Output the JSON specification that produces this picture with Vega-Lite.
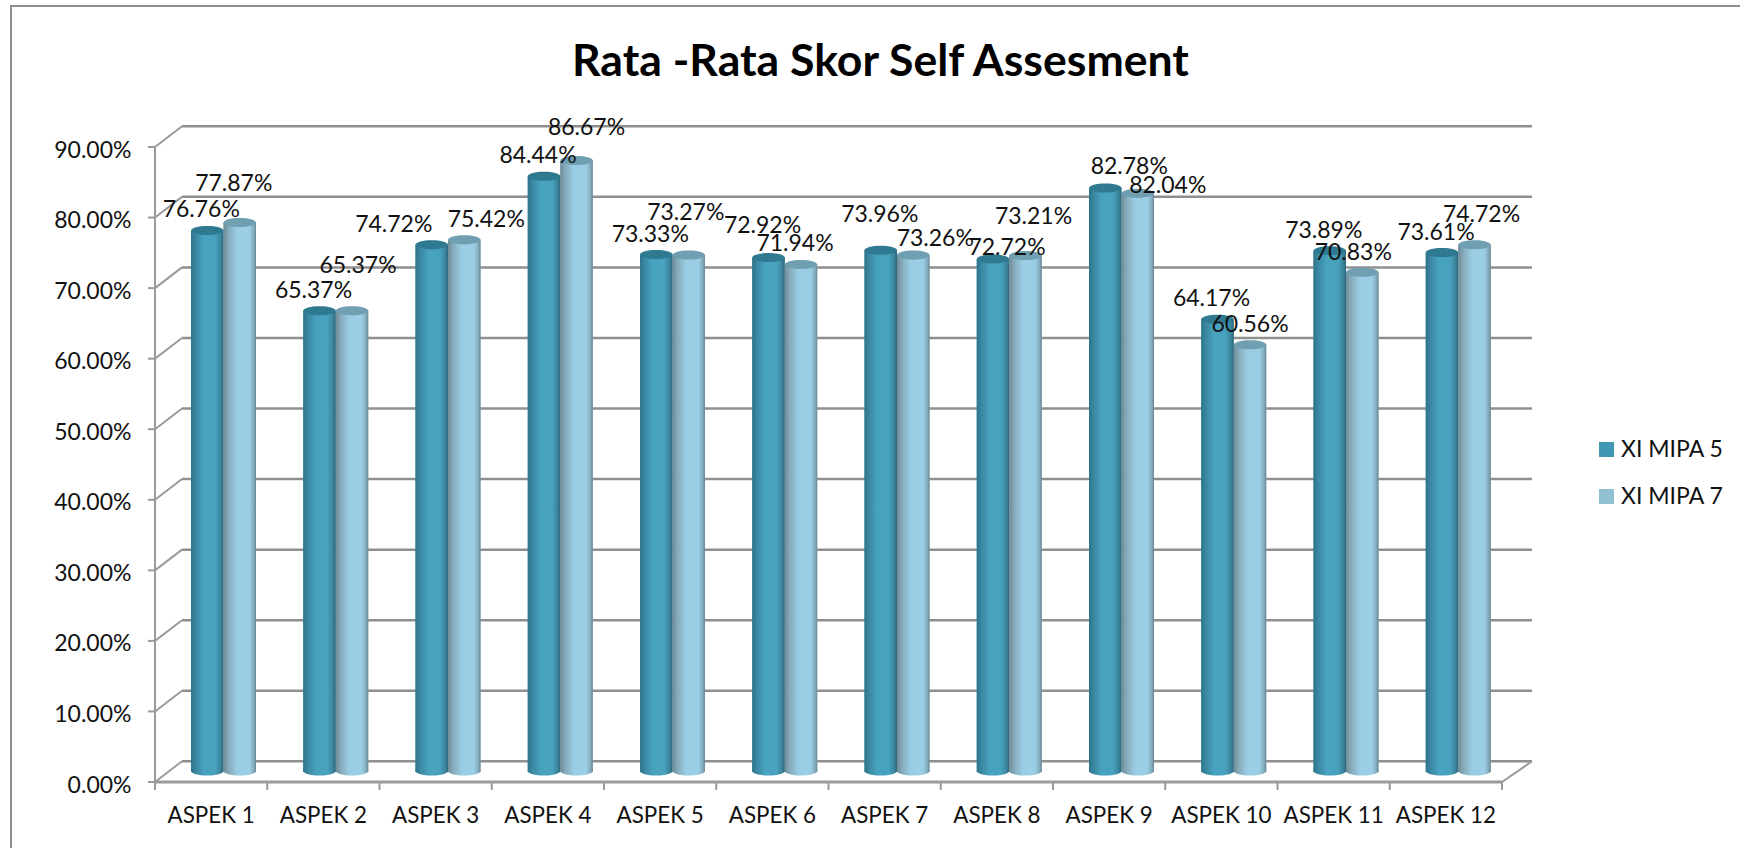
{"$schema":"https://vega.github.io/schema/vega-lite/v6.json","width":1739,"height":852,"autosize":"none","padding":{"left":11,"top":6,"right":-10,"bottom":-10},"background":"white","config":{"view":{"stroke":"#8f8f8f","strokeWidth":2},"font":"Lato"},"title":{"text":"Rata -Rata Skor Self Assesment","anchor":"middle","frame":"group","offset":-66,"dy":49,"baseline":"alphabetic","font":"Lato","fontSize":44.6,"fontWeight":"bold","color":"#000"},"datasets":{"nilai":[{"aspek":"ASPEK 1","kelas":"XI MIPA 5","nilai":0.7676},{"aspek":"ASPEK 1","kelas":"XI MIPA 7","nilai":0.7787},{"aspek":"ASPEK 2","kelas":"XI MIPA 5","nilai":0.6537},{"aspek":"ASPEK 2","kelas":"XI MIPA 7","nilai":0.6537},{"aspek":"ASPEK 3","kelas":"XI MIPA 5","nilai":0.7472},{"aspek":"ASPEK 3","kelas":"XI MIPA 7","nilai":0.7542},{"aspek":"ASPEK 4","kelas":"XI MIPA 5","nilai":0.8444},{"aspek":"ASPEK 4","kelas":"XI MIPA 7","nilai":0.8667},{"aspek":"ASPEK 5","kelas":"XI MIPA 5","nilai":0.7333},{"aspek":"ASPEK 5","kelas":"XI MIPA 7","nilai":0.7327},{"aspek":"ASPEK 6","kelas":"XI MIPA 5","nilai":0.7292},{"aspek":"ASPEK 6","kelas":"XI MIPA 7","nilai":0.7194},{"aspek":"ASPEK 7","kelas":"XI MIPA 5","nilai":0.7396},{"aspek":"ASPEK 7","kelas":"XI MIPA 7","nilai":0.7326},{"aspek":"ASPEK 8","kelas":"XI MIPA 5","nilai":0.7272},{"aspek":"ASPEK 8","kelas":"XI MIPA 7","nilai":0.7321},{"aspek":"ASPEK 9","kelas":"XI MIPA 5","nilai":0.8278},{"aspek":"ASPEK 9","kelas":"XI MIPA 7","nilai":0.8204},{"aspek":"ASPEK 10","kelas":"XI MIPA 5","nilai":0.6417},{"aspek":"ASPEK 10","kelas":"XI MIPA 7","nilai":0.6056},{"aspek":"ASPEK 11","kelas":"XI MIPA 5","nilai":0.7389},{"aspek":"ASPEK 11","kelas":"XI MIPA 7","nilai":0.7083},{"aspek":"ASPEK 12","kelas":"XI MIPA 5","nilai":0.7361},{"aspek":"ASPEK 12","kelas":"XI MIPA 7","nilai":0.7472}],"grid":[{"level":0,"from":0,"to":1},{"level":0.1,"from":0,"to":1},{"level":0.2,"from":0,"to":1},{"level":0.3,"from":0,"to":1},{"level":0.4,"from":0,"to":1},{"level":0.5,"from":0,"to":1},{"level":0.6,"from":0,"to":1},{"level":0.7,"from":0,"to":1},{"level":0.8,"from":0,"to":1},{"level":0.9,"from":0,"to":1}],"sumbu":[{"from":0,"low":0,"high":0.9}],"ticks":[{"pos":0,"a":0,"b":1},{"pos":1,"a":0,"b":1},{"pos":2,"a":0,"b":1},{"pos":3,"a":0,"b":1},{"pos":4,"a":0,"b":1},{"pos":5,"a":0,"b":1},{"pos":6,"a":0,"b":1},{"pos":7,"a":0,"b":1},{"pos":8,"a":0,"b":1},{"pos":9,"a":0,"b":1},{"pos":10,"a":0,"b":1},{"pos":11,"a":0,"b":1},{"pos":12,"a":0,"b":1}]},"resolve":{"scale":{"x":"independent","y":"independent"},"axis":{"x":"independent","y":"independent"}},"layer":[{"data":{"name":"grid"},"mark":{"type":"rule","color":"#8f8f8f","strokeWidth":2.5,"yOffset":-20.7},"encoding":{"x":{"field":"from","type":"quantitative","scale":{"domain":[0,1],"range":[171,1521]},"axis":null},"x2":{"field":"to"},"y":{"field":"level","type":"quantitative","scale":{"domain":[0,0.9],"range":[776,141]},"axis":{"title":null,"format":".2%","values":[0,0.1,0.2,0.3,0.4,0.5,0.6,0.7,0.8,0.9],"offset":-144,"grid":false,"domain":false,"ticks":false,"labelFont":"Lato","labelFontSize":23,"labelColor":"#111111","labelPadding":24,"labelOffset":3}}}},{"data":{"name":"grid"},"mark":{"type":"rule","color":"#9a9a9a","strokeWidth":2,"y2Offset":-20.7},"encoding":{"x":{"field":"from","type":"quantitative","scale":{"domain":[0,1],"range":[144,171]},"axis":null},"x2":{"field":"to"},"y":{"field":"level","type":"quantitative","scale":{"domain":[0,0.9],"range":[776,141]},"axis":null},"y2":{"field":"level"}}},{"data":{"name":"grid"},"transform":[{"filter":"datum.level===0"}],"mark":{"type":"rule","color":"#9a9a9a","strokeWidth":2,"y2Offset":-20.7},"encoding":{"x":{"field":"from","type":"quantitative","scale":{"domain":[0,1],"range":[1491,1521]},"axis":null},"x2":{"field":"to"},"y":{"field":"level","type":"quantitative","scale":{"domain":[0,0.9],"range":[776,141]},"axis":null},"y2":{"field":"level"}}},{"data":{"name":"grid"},"transform":[{"filter":"datum.level===0"}],"mark":{"type":"rule","color":"#9a9a9a","strokeWidth":3},"encoding":{"x":{"field":"from","type":"quantitative","scale":{"domain":[0,1],"range":[144,1491]},"axis":null},"x2":{"field":"to"},"y":{"field":"level","type":"quantitative","scale":{"domain":[0,0.9],"range":[776,141]},"axis":null}}},{"data":{"name":"sumbu"},"mark":{"type":"rule","color":"#9a9a9a","strokeWidth":2},"encoding":{"x":{"field":"from","type":"quantitative","scale":{"domain":[0,1],"range":[144,1491]},"axis":null},"y":{"field":"low","type":"quantitative","scale":{"domain":[0,0.9],"range":[776,141]},"axis":null},"y2":{"field":"high"}}},{"data":{"name":"grid"},"mark":{"type":"rule","color":"#9a9a9a","strokeWidth":2},"encoding":{"x":{"field":"from","type":"quantitative","scale":{"domain":[0,1],"range":[137,144]},"axis":null},"x2":{"field":"to"},"y":{"field":"level","type":"quantitative","scale":{"domain":[0,0.9],"range":[776,141]},"axis":null}}},{"data":{"name":"ticks"},"mark":{"type":"rule","color":"#9a9a9a","strokeWidth":2},"encoding":{"x":{"field":"pos","type":"quantitative","scale":{"domain":[0,12],"range":[144,1491]},"axis":null},"y":{"field":"a","type":"quantitative","scale":{"domain":[0,1],"range":[776,784]},"axis":null},"y2":{"field":"b"}}},{"data":{"name":"nilai"},"resolve":{"axis":{"x":"independent","y":"independent"}},"encoding":{"x":{"field":"aspek","type":"nominal","sort":null,"scale":{"domain":["ASPEK 1","ASPEK 2","ASPEK 3","ASPEK 4","ASPEK 5","ASPEK 6","ASPEK 7","ASPEK 8","ASPEK 9","ASPEK 10","ASPEK 11","ASPEK 12"],"range":[144,1491],"paddingInner":0,"paddingOuter":0},"axis":null},"xOffset":{"field":"kelas","type":"nominal","scale":{"domain":["XI MIPA 5","XI MIPA 7"],"range":[36,101],"paddingInner":0,"paddingOuter":0}},"y":{"field":"nilai","type":"quantitative","stack":null,"scale":{"domain":[0,0.9],"range":[766,131]},"axis":null}},"layer":[{"mark":{"type":"bar"},"encoding":{"x":{"field":"aspek","type":"nominal","sort":null,"axis":{"title":null,"orient":"bottom","offset":-94,"domain":false,"ticks":false,"labelFont":"Lato","labelFontSize":22.4,"labelColor":"#111111","labelAngle":0,"labelPadding":40,"grid":false,"labelOverlap":false}},"color":{"field":"kelas","type":"nominal","scale":{"domain":["XI MIPA 5","XI MIPA 7"],"range":["#4198b3","#92c0d3"]},"legend":{"orient":"none","legendX":1584,"legendY":432,"title":null,"symbolType":"square","symbolSize":225,"symbolStrokeWidth":0,"labelFont":"Lato","labelFontSize":23,"labelColor":"#111111","labelOffset":3,"rowPadding":23}}}},{"transform":[{"filter":"datum.kelas==='XI MIPA 5'"}],"layer":[{"mark":{"type":"point","filled":true,"opacity":1,"strokeWidth":0,"yOffset":-1,"shape":"M-1,0A1,0.28 0 1 1 1,0A1,0.28 0 1 1 -1,0Z","size":1050,"color":{"x1":0,"x2":1,"y1":0,"y2":0,"gradient":"linear","stops":[{"offset":0,"color":"#2f7389"},{"offset":0.15,"color":"#3a88a3"},{"offset":0.4,"color":"#48a3c0"},{"offset":0.75,"color":"#48a2be"},{"offset":0.92,"color":"#3a829b"},{"offset":1,"color":"#2e6679"}]}},"encoding":{"y":{"datum":0,"type":"quantitative"}}},{"mark":{"type":"bar","color":{"x1":0,"x2":1,"y1":0,"y2":0,"gradient":"linear","stops":[{"offset":0,"color":"#2f7389"},{"offset":0.15,"color":"#3a88a3"},{"offset":0.4,"color":"#48a3c0"},{"offset":0.75,"color":"#48a2be"},{"offset":0.92,"color":"#3a829b"},{"offset":1,"color":"#2e6679"}]}}},{"mark":{"type":"point","filled":true,"opacity":1,"strokeWidth":0,"shape":"M-1,0A1,0.28 0 1 1 1,0A1,0.28 0 1 1 -1,0Z","size":1050,"color":"#2f7a90"}}]},{"transform":[{"filter":"datum.kelas==='XI MIPA 7'"}],"layer":[{"mark":{"type":"point","filled":true,"opacity":1,"strokeWidth":0,"yOffset":-1,"shape":"M-1,0A1,0.28 0 1 1 1,0A1,0.28 0 1 1 -1,0Z","size":1050,"color":{"x1":0,"x2":1,"y1":0,"y2":0,"gradient":"linear","stops":[{"offset":0,"color":"#6f8a96"},{"offset":0.15,"color":"#85aaba"},{"offset":0.42,"color":"#9acde3"},{"offset":0.8,"color":"#9acee4"},{"offset":0.92,"color":"#85afc1"},{"offset":1,"color":"#6a8793"}]}},"encoding":{"y":{"datum":0,"type":"quantitative"}}},{"mark":{"type":"bar","color":{"x1":0,"x2":1,"y1":0,"y2":0,"gradient":"linear","stops":[{"offset":0,"color":"#6f8a96"},{"offset":0.15,"color":"#85aaba"},{"offset":0.42,"color":"#9acde3"},{"offset":0.8,"color":"#9acee4"},{"offset":0.92,"color":"#85afc1"},{"offset":1,"color":"#6a8793"}]}}},{"mark":{"type":"point","filled":true,"opacity":1,"strokeWidth":0,"shape":"M-1,0A1,0.28 0 1 1 1,0A1,0.28 0 1 1 -1,0Z","size":1050,"color":"#6f9fb1"}}]},{"transform":[{"filter":"datum.kelas==='XI MIPA 5' && indexof(['ASPEK 1','ASPEK 2','ASPEK 4','ASPEK 5','ASPEK 10','ASPEK 11','ASPEK 12'],datum.aspek)>=0"}],"mark":{"type":"text","dx":-6,"dy":-20,"font":"Lato","fontSize":23,"color":"#111111"},"encoding":{"text":{"field":"nilai","type":"quantitative","format":".2%"}}},{"transform":[{"filter":"datum.kelas==='XI MIPA 5' && datum.aspek==='ASPEK 3'"}],"mark":{"type":"text","dx":-38,"dy":-20,"font":"Lato","fontSize":23,"color":"#111111"},"encoding":{"text":{"field":"nilai","type":"quantitative","format":".2%"}}},{"transform":[{"filter":"datum.kelas==='XI MIPA 5' && datum.aspek==='ASPEK 6'"}],"mark":{"type":"text","dx":-6,"dy":-32,"font":"Lato","fontSize":23,"color":"#111111"},"encoding":{"text":{"field":"nilai","type":"quantitative","format":".2%"}}},{"transform":[{"filter":"datum.kelas==='XI MIPA 5' && datum.aspek==='ASPEK 7'"}],"mark":{"type":"text","dx":-1,"dy":-35,"font":"Lato","fontSize":23,"color":"#111111"},"encoding":{"text":{"field":"nilai","type":"quantitative","format":".2%"}}},{"transform":[{"filter":"datum.kelas==='XI MIPA 5' && datum.aspek==='ASPEK 8'"}],"mark":{"type":"text","dx":14,"dy":-11,"font":"Lato","fontSize":23,"color":"#111111"},"encoding":{"text":{"field":"nilai","type":"quantitative","format":".2%"}}},{"transform":[{"filter":"datum.kelas==='XI MIPA 5' && datum.aspek==='ASPEK 9'"}],"mark":{"type":"text","dx":24,"dy":-21,"font":"Lato","fontSize":23,"color":"#111111"},"encoding":{"text":{"field":"nilai","type":"quantitative","format":".2%"}}},{"transform":[{"filter":"datum.kelas==='XI MIPA 7' && datum.aspek==='ASPEK 1'"}],"mark":{"type":"text","dx":-6,"dy":-39,"font":"Lato","fontSize":23,"color":"#111111"},"encoding":{"text":{"field":"nilai","type":"quantitative","format":".2%"}}},{"transform":[{"filter":"datum.kelas==='XI MIPA 7' && datum.aspek==='ASPEK 2'"}],"mark":{"type":"text","dx":6,"dy":-45,"font":"Lato","fontSize":23,"color":"#111111"},"encoding":{"text":{"field":"nilai","type":"quantitative","format":".2%"}}},{"transform":[{"filter":"datum.kelas==='XI MIPA 7' && datum.aspek==='ASPEK 3'"}],"mark":{"type":"text","dx":22,"dy":-20,"font":"Lato","fontSize":23,"color":"#111111"},"encoding":{"text":{"field":"nilai","type":"quantitative","format":".2%"}}},{"transform":[{"filter":"datum.kelas==='XI MIPA 7' && datum.aspek==='ASPEK 4'"}],"mark":{"type":"text","dx":10,"dy":-32,"font":"Lato","fontSize":23,"color":"#111111"},"encoding":{"text":{"field":"nilai","type":"quantitative","format":".2%"}}},{"transform":[{"filter":"datum.kelas==='XI MIPA 7' && datum.aspek==='ASPEK 5'"}],"mark":{"type":"text","dx":-3,"dy":-42,"font":"Lato","fontSize":23,"color":"#111111"},"encoding":{"text":{"field":"nilai","type":"quantitative","format":".2%"}}},{"transform":[{"filter":"datum.kelas==='XI MIPA 7' && datum.aspek==='ASPEK 6'"}],"mark":{"type":"text","dx":-6,"dy":-20,"font":"Lato","fontSize":23,"color":"#111111"},"encoding":{"text":{"field":"nilai","type":"quantitative","format":".2%"}}},{"transform":[{"filter":"datum.kelas==='XI MIPA 7' && datum.aspek==='ASPEK 7'"}],"mark":{"type":"text","dx":22,"dy":-16,"font":"Lato","fontSize":23,"color":"#111111"},"encoding":{"text":{"field":"nilai","type":"quantitative","format":".2%"}}},{"transform":[{"filter":"datum.kelas==='XI MIPA 7' && datum.aspek==='ASPEK 8'"}],"mark":{"type":"text","dx":8,"dy":-38,"font":"Lato","fontSize":23,"color":"#111111"},"encoding":{"text":{"field":"nilai","type":"quantitative","format":".2%"}}},{"transform":[{"filter":"datum.kelas==='XI MIPA 7' && datum.aspek==='ASPEK 9'"}],"mark":{"type":"text","dx":30,"dy":-7,"font":"Lato","fontSize":23,"color":"#111111"},"encoding":{"text":{"field":"nilai","type":"quantitative","format":".2%"}}},{"transform":[{"filter":"datum.kelas==='XI MIPA 7' && datum.aspek==='ASPEK 10'"}],"mark":{"type":"text","dx":0,"dy":-20,"font":"Lato","fontSize":23,"color":"#111111"},"encoding":{"text":{"field":"nilai","type":"quantitative","format":".2%"}}},{"transform":[{"filter":"datum.kelas==='XI MIPA 7' && datum.aspek==='ASPEK 11'"}],"mark":{"type":"text","dx":-9,"dy":-19,"font":"Lato","fontSize":23,"color":"#111111"},"encoding":{"text":{"field":"nilai","type":"quantitative","format":".2%"}}},{"transform":[{"filter":"datum.kelas==='XI MIPA 7' && datum.aspek==='ASPEK 12'"}],"mark":{"type":"text","dx":7,"dy":-30,"font":"Lato","fontSize":23,"color":"#111111"},"encoding":{"text":{"field":"nilai","type":"quantitative","format":".2%"}}}]}]}
